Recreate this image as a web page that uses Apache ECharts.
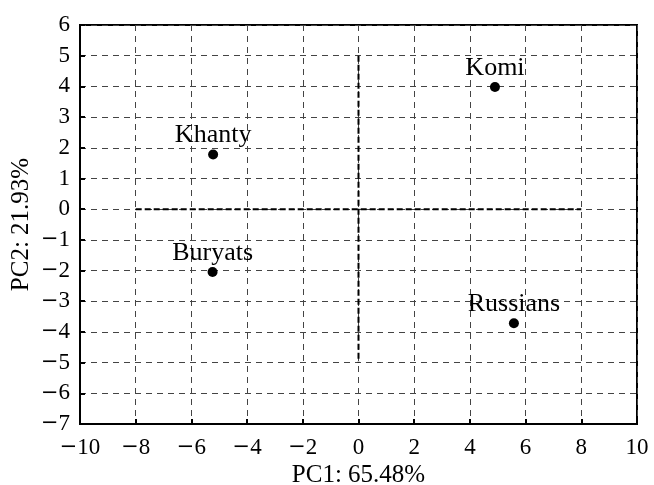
<!DOCTYPE html>
<html><head><meta charset="utf-8">
<script src="https://cdn.jsdelivr.net/npm/echarts@6/dist/echarts.min.js"></script>
<style>html,body{margin:0;padding:0;background:#fff}#c{width:654px;height:485px}</style>
</head><body><div id="c"></div>
<script>
const groups = ['Komi', 'Khanty', 'Buryats', 'Russians'];
const pc1 = [4.9, -5.22, -5.24, 5.58];
const pc2 = [3.98, 1.78, -2.05, -3.72];
const zeroLineH = [[-8, 0], [8, 0]];
const zeroLineV = [[0, 5], [0, -5]];
const xAxisName = 'PC1: 65.48%';
const yAxisName = 'PC2: 21.93%';

const font = '"Liberation Serif", "DejaVu Serif", serif';
const fmt = v => (v < 0 ? '{m|\u2212}' + Math.abs(v) : String(v));
const tickRich = {m: {fontFamily: '"DejaVu Serif", serif', fontSize: 21, color: '#000'}};
const chart = echarts.init(document.getElementById('c'), null, {renderer: 'canvas'});
chart.setOption({
  animation: false,
  grid: {left: 80, right: 17, top: 25, bottom: 61, outerBoundsMode: 'none', containLabel: false,
         show: true, borderColor: '#000', borderWidth: 2, backgroundColor: 'transparent'},
  xAxis: {
    type: 'value', min: -10, max: 10, interval: 2,
    name: xAxisName, nameLocation: 'middle', nameGap: 39, nameMoveOverlap: false,
    nameTextStyle: {fontFamily: font, fontSize: 25, color: '#000'},
    axisLine: {show: true, onZero: false, lineStyle: {color: '#000', width: 2}},
    axisTick: {show: true, inside: true, length: 5, lineStyle: {color: '#000', width: 2}},
    axisLabel: {fontFamily: font, fontSize: 23, color: '#000', margin: 12, formatter: fmt, rich: tickRich},
    splitLine: {show: true, lineStyle: {color: '#444', width: 1, type: [6, 5]}}
  },
  yAxis: {
    type: 'value', min: -7, max: 6, interval: 1,
    name: yAxisName, nameLocation: 'middle', nameGap: 46, nameMoveOverlap: false,
    nameTextStyle: {fontFamily: font, fontSize: 25, color: '#000'},
    axisLine: {show: true, onZero: false, lineStyle: {color: '#000', width: 2}},
    axisTick: {show: true, inside: true, length: 5, lineStyle: {color: '#000', width: 2}},
    axisLabel: {fontFamily: font, fontSize: 23, color: '#000', margin: 10, formatter: fmt, rich: tickRich},
    splitLine: {show: true, lineStyle: {color: '#444', width: 1, type: [6, 5]}}
  },
  series: [
    {type: 'line', data: zeroLineH, symbol: 'none', silent: true,
     lineStyle: {color: '#000', width: 2, type: [6, 3]}, z: 3},
    {type: 'line', data: zeroLineV, symbol: 'none', silent: true,
     lineStyle: {color: '#000', width: 2, type: [6, 3]}, z: 3},
    {type: 'scatter', symbol: 'circle', symbolSize: 10, z: 5,
     itemStyle: {color: '#000', opacity: 1},
     data: groups.map((g, i) => ({name: g, value: [pc1[i], pc2[i]]})),
     label: {show: true, position: 'top', distance: 1, formatter: p => p.name,
       fontFamily: font, fontSize: 26, color: '#000'}}
  ]
});
</script></body></html>
